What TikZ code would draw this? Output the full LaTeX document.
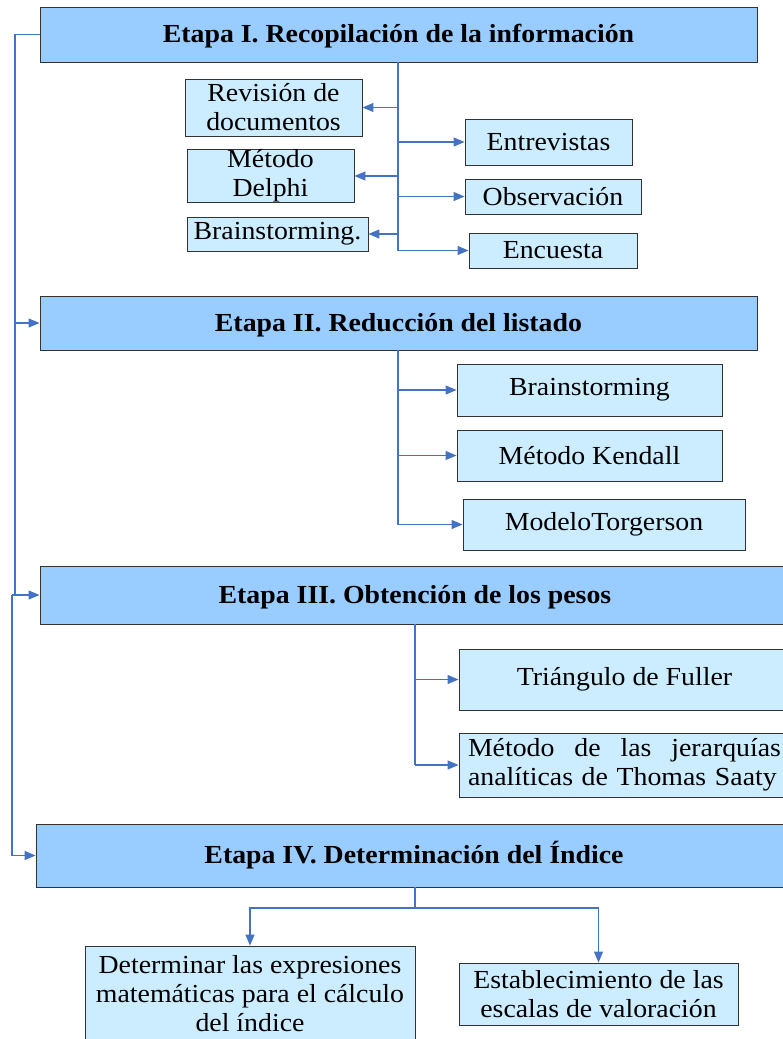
\documentclass[tikz,border=0pt]{standalone}
\usepackage{fontspec}
\setmainfont{Liberation Serif}[FakeStretch=1.07]
\usetikzlibrary{arrows.meta}
\definecolor{hdr}{RGB}{153,204,255}
\definecolor{sub}{RGB}{204,236,255}
\definecolor{ln}{RGB}{68,114,196}
\definecolor{bd}{RGB}{50,50,50}
\tikzset{
  hdrbox/.style={draw=bd, fill=hdr, line width=0.9pt, inner sep=0pt, text height=22pt, text depth=6pt, font=\bfseries\fontsize{26}{28}\selectfont},
  subbox/.style={draw=bd, fill=sub, line width=0.9pt, inner sep=0pt, align=center, font=\fontsize{26}{29}\selectfont},
  conn/.style={draw=ln, line width=1.1pt},
  arr/.style={conn, -{Triangle[length=11pt,width=9pt]}}
}
\begin{document}
\begin{tikzpicture}[x=1pt,y=-1pt]
\useasboundingbox (0,0) rectangle (782,1039);
% stages
\node[hdrbox, minimum width=717pt, minimum height=55pt] (s1) at (398.5,34.5) {Etapa I. Recopilación de la información};
\node[hdrbox, minimum width=717pt, minimum height=54pt] (s2) at (398.5,323) {Etapa II. Reducción del listado};
\node[hdrbox, minimum width=750pt, minimum height=58pt] (s3) at (415,595) {Etapa III. Obtención de los pesos};
\node[hdrbox, minimum width=756pt, minimum height=63pt] (s4) at (414,855.5) {Etapa IV. Determinación del Índice};
% stage I children
\node[subbox, minimum width=177pt, minimum height=57pt] (rev) at (273.5,107.5) {Revisión de\\documentos};
\node[subbox, minimum width=167pt, minimum height=46pt] (del) at (270.5,176) {Método\\Delphi};
\node[subbox, minimum width=181pt, minimum height=34pt] (bra1) at (277.5,234) {Brainstorming.};
\node[subbox, minimum width=167pt, minimum height=46pt] (ent) at (548.5,142) {Entrevistas};
\node[subbox, minimum width=176pt, minimum height=35pt] (obs) at (553,196.5) {Observación};
\node[subbox, minimum width=168pt, minimum height=35pt] (enc) at (553,250.5) {Encuesta};
% stage II children
\node[subbox, minimum width=265pt, minimum height=52pt] (bra2) at (589.5,390) {Brainstorming};
\node[subbox, minimum width=265pt, minimum height=51pt] (ken) at (589.5,455.5) {Método Kendall};
\node[subbox, minimum width=282pt, minimum height=51pt] (tor) at (604,524.5) {ModeloTorgerson};
% stage III children
\node[subbox, minimum width=331pt, minimum height=61pt] (ful) at (624.5,679.5) {Triángulo de Fuller};
\node[subbox, minimum width=331pt, minimum height=64pt, text width=313pt, align=left] (saa) at (624.5,765) {Método\hfill de\hfill las\hfill jerarquías\\analíticas de Thomas Saaty};
% stage IV children
\node[subbox, minimum width=330pt, minimum height=96pt] (det) at (250,994) {Determinar las expresiones\\matemáticas para el cálculo\\del índice};
\node[subbox, minimum width=279pt, minimum height=62pt] (est) at (598.5,994) {Establecimiento de las\\escalas de valoración};
% left connectors
\coordinate (L) at (15,0);
\coordinate (L2) at (12,0);
\draw[conn] (s1.west) -- (s1.west -| L) -- (s3.west -| L);
\draw[arr] (s2.west -| L) -- (s2.west);
\draw[arr] (s3.west -| L) -- (s3.west);
\draw[conn] (s3.west -| L) -- (s3.west -| L2);
\draw[arr] (s3.west -| L2) |- (s4.west);
% stage I trunk
\coordinate (t1) at (398,251);
\draw[conn] (s1.south -| t1) -- (t1);
\draw[arr] (t1 |- rev.east) -- (rev.east);
\draw[arr] (t1 |- del.east) -- (del.east);
\draw[arr] (t1 |- bra1.east) -- (bra1.east);
\draw[arr] (t1 |- ent.west) -- (ent.west);
\draw[arr] (t1 |- obs.west) -- (obs.west);
\draw[arr] (t1 |- enc.west) -- (enc.west);
% stage II trunk
\coordinate (t2) at (398,524.5);
\draw[conn] (s2.south -| t2) -- (t2);
\draw[arr] (t2 |- bra2.west) -- (bra2.west);
\draw[arr] (t2 |- ken.west) -- (ken.west);
\draw[arr] (t2 |- tor.west) -- (tor.west);
% stage III trunk
\coordinate (t3) at (415,765);
\draw[conn] (s3.south -| t3) -- (t3);
\draw[arr] (t3 |- ful.west) -- (ful.west);
\draw[arr] (t3 |- saa.west) -- (saa.west);
% stage IV branches
\coordinate (t4) at (415,908);
\draw[conn] (s4.south -| t4) -- (t4);
\draw[arr] (t4) -| (det.north);
\draw[arr] (t4) -| (est.north);
\end{tikzpicture}
\end{document}
